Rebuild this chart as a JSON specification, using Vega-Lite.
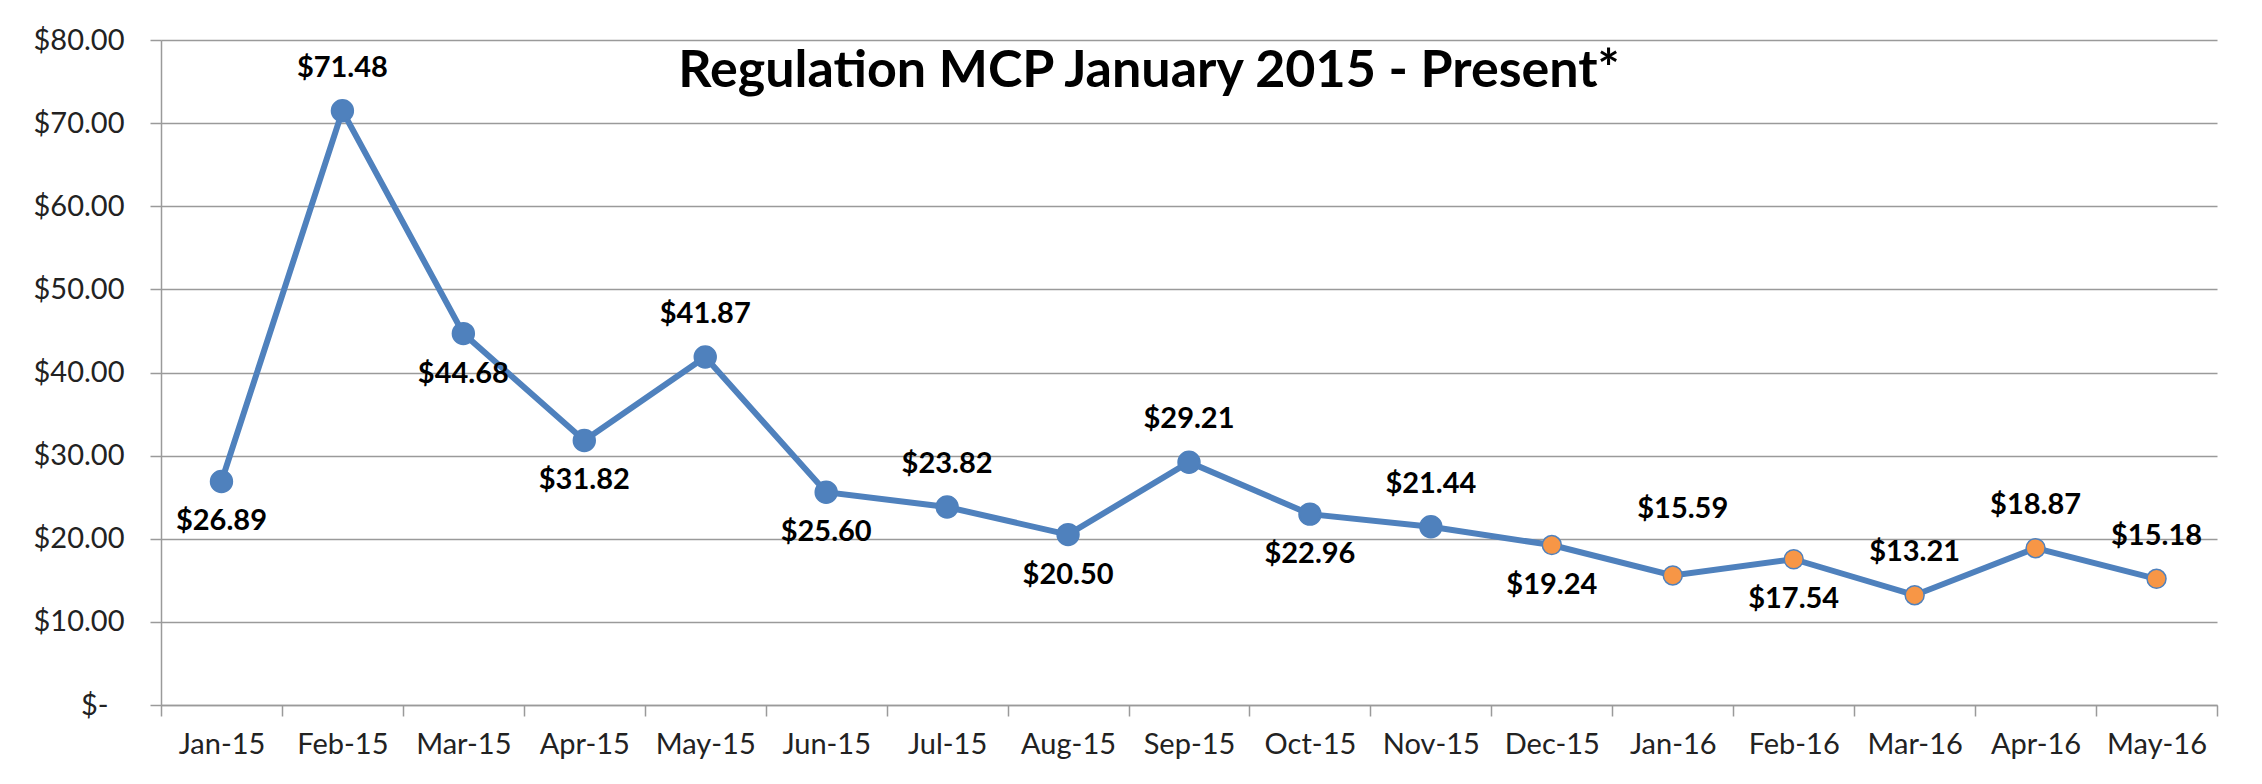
{
  "$schema": "https://vega.github.io/schema/vega-lite/v6.json",
  "autosize": {"type": "none"},
  "padding": {"left": 161, "top": 40, "right": 45, "bottom": 79},
  "width": 2056,
  "height": 665,
  "background": "white",
  "title": {
    "text": "Regulation MCP January 2015 - Present*",
    "anchor": "middle",
    "frame": "group",
    "font": "Lato",
    "fontWeight": "bold",
    "fontSize": 52,
    "color": "black",
    "baseline": "middle",
    "offset": -97,
    "dx": -40
  },
  "data": {
    "values": [
      {"month": "Jan-15", "mcp": 26.89, "status": "Final"},
      {"month": "Feb-15", "mcp": 71.48, "status": "Final"},
      {"month": "Mar-15", "mcp": 44.68, "status": "Final"},
      {"month": "Apr-15", "mcp": 31.82, "status": "Final"},
      {"month": "May-15", "mcp": 41.87, "status": "Final"},
      {"month": "Jun-15", "mcp": 25.60, "status": "Final"},
      {"month": "Jul-15", "mcp": 23.82, "status": "Final"},
      {"month": "Aug-15", "mcp": 20.50, "status": "Final"},
      {"month": "Sep-15", "mcp": 29.21, "status": "Final"},
      {"month": "Oct-15", "mcp": 22.96, "status": "Final"},
      {"month": "Nov-15", "mcp": 21.44, "status": "Final"},
      {"month": "Dec-15", "mcp": 19.24, "status": "Preliminary"},
      {"month": "Jan-16", "mcp": 15.59, "status": "Preliminary"},
      {"month": "Feb-16", "mcp": 17.54, "status": "Preliminary"},
      {"month": "Mar-16", "mcp": 13.21, "status": "Preliminary"},
      {"month": "Apr-16", "mcp": 18.87, "status": "Preliminary"},
      {"month": "May-16", "mcp": 15.18, "status": "Preliminary"}
    ]
  },
  "encoding": {
    "x": {
      "field": "month",
      "type": "ordinal",
      "sort": null,
      "scale": {"type": "band", "paddingInner": 0, "paddingOuter": 0},
      "axis": {
        "title": null,
        "labelAngle": 0,
        "tickBand": "extent",
        "tickSize": 11,
        "tickColor": "#9a9a9a",
        "tickWidth": 1.5,
        "domainColor": "#9a9a9a",
        "domainWidth": 1.5,
        "labelFont": "Lato",
        "labelFontSize": 29,
        "labelColor": "#222222",
        "labelPadding": 14,
        "grid": false
      }
    },
    "y": {
      "field": "mcp",
      "type": "quantitative",
      "scale": {"domain": [0, 80], "nice": false},
      "axis": {
        "title": null,
        "values": [0, 10, 20, 30, 40, 50, 60, 70, 80],
        "labelExpr": "datum.value == 0 ? '$-' : format(datum.value, '$.2f')",
        "tickSize": 11,
        "tickColor": "#9a9a9a",
        "tickWidth": 1.5,
        "domainColor": "#9a9a9a",
        "domainWidth": 1.5,
        "gridColor": "#9a9a9a",
        "gridWidth": 1.5,
        "labelFont": "Lato",
        "labelFontSize": 29,
        "labelColor": "#222222",
        "labelPadding": {"condition": {"test": "datum.value == 0", "value": 42}, "value": 26}
      }
    }
  },
  "layer": [
    {
      "mark": {"type": "line", "color": "#4F81BD", "strokeWidth": 6}
    },
    {
      "mark": {"type": "point", "filled": true, "opacity": 1, "strokeWidth": 1.5},
      "encoding": {
        "fill": {
          "field": "status",
          "type": "nominal",
          "scale": {"domain": ["Final", "Preliminary"], "range": ["#4F81BD", "#F79646"]},
          "legend": null
        },
        "stroke": {"value": "#4F81BD"},
        "size": {
          "field": "status",
          "type": "nominal",
          "scale": {"domain": ["Final", "Preliminary"], "range": [480, 360]},
          "legend": null
        }
      }
    },
    {
      "transform": [{"filter": {"field": "month", "oneOf": ["Feb-15", "May-15", "Jul-15", "Sep-15", "Nov-15", "Mar-16", "Apr-16", "May-16"]}}],
      "mark": {"type": "text", "font": "Lato", "fontWeight": "bold", "fontSize": 29, "color": "black", "baseline": "middle", "dy": -43},
      "encoding": {"text": {"field": "mcp", "type": "quantitative", "format": "$.2f"}}
    },
    {
      "transform": [{"filter": {"field": "month", "oneOf": ["Jan-16"]}}],
      "mark": {"type": "text", "font": "Lato", "fontWeight": "bold", "fontSize": 29, "color": "black", "baseline": "middle", "dy": -66, "dx": 10},
      "encoding": {"text": {"field": "mcp", "type": "quantitative", "format": "$.2f"}}
    },
    {
      "transform": [{"filter": {"field": "month", "oneOf": ["Jan-15", "Mar-15", "Apr-15", "Jun-15", "Aug-15", "Oct-15", "Dec-15", "Feb-16"]}}],
      "mark": {"type": "text", "font": "Lato", "fontWeight": "bold", "fontSize": 29, "color": "black", "baseline": "middle", "dy": 40},
      "encoding": {"text": {"field": "mcp", "type": "quantitative", "format": "$.2f"}}
    }
  ],
  "config": {
    "view": {"stroke": null}
  }
}
